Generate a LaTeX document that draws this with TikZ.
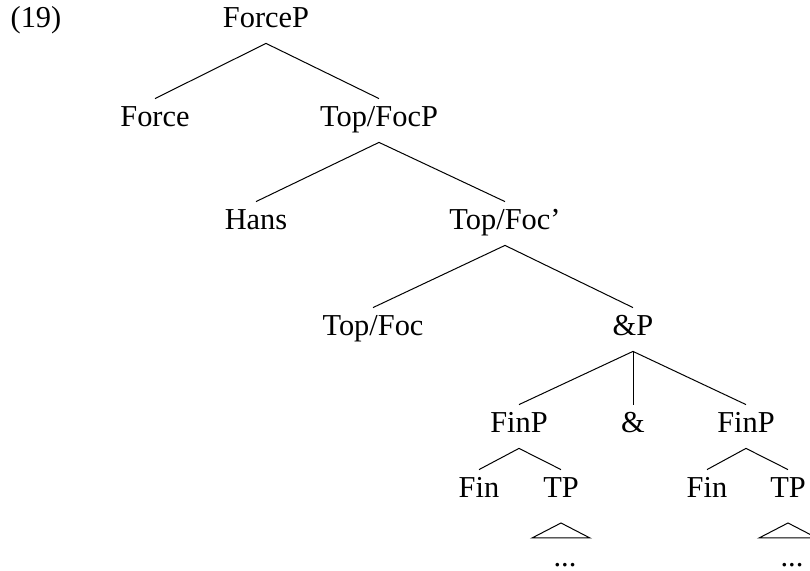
\documentclass[tikz,border=0pt]{standalone}
\usepackage{fontspec}
\setmainfont{Liberation Serif}
\begin{document}
\begin{tikzpicture}[x=0.5pt,y=-0.5pt,
  lab/.style={anchor=base, font=\fontsize{15.2}{18}\selectfont, text height=10pt, text depth=3.5pt, inner xsep=0pt, inner ysep=4pt},
  dotlab/.style={lab, text height=2pt, text depth=0pt, inner ysep=0pt},
  edge/.style={line width=0.5pt}]
\useasboundingbox (0,0) rectangle (810,571);
\node[lab] (ex) at (36,28) {(19)};
\node[lab] (fp) at (266,28) {ForceP};
\node[lab] (f) at (155,127) {Force};
\node[lab] (tfp) at (379,127) {Top/FocP};
\node[lab] (hans) at (256,230) {Hans};
\node[lab] (tfb) at (505,230) {Top/Foc'};
\node[lab] (tf) at (373,336) {Top/Foc};
\node[lab] (ap) at (633,336) {\&P};
\node[lab] (fin1p) at (519,433) {FinP};
\node[lab] (amp) at (633,433) {\&};
\node[lab] (fin2p) at (746,433) {FinP};
\node[lab] (fin1) at (479,498) {Fin};
\node[lab] (tp1) at (561,498) {TP};
\node[lab] (fin2) at (707,498) {Fin};
\node[lab] (tp2) at (788,498) {TP};
\node[dotlab] (dots1) at (565,567) {...};
\node[dotlab] (dots2) at (792,567) {...};
\coordinate (r1) at (561,523);
\coordinate (r2) at (788,523);
\draw[edge] (fp.south) -- (f.north);
\draw[edge] (fp.south) -- (tfp.north);
\draw[edge] (tfp.south) -- (hans.north);
\draw[edge] (tfp.south) -- (tfb.north);
\draw[edge] (tfb.south) -- (tf.north);
\draw[edge] (tfb.south) -- (ap.north);
\draw[edge] (ap.south) -- (fin1p.north);
\draw[edge] (ap.south) -- (amp.north);
\draw[edge] (ap.south) -- (fin2p.north);
\draw[edge] (fin1p.south) -- (fin1.north);
\draw[edge] (fin1p.south) -- (tp1.north);
\draw[edge] (fin2p.south) -- (fin2.north);
\draw[edge] (fin2p.south) -- (tp2.north);
\draw[edge] (r1) -- ++(-29,15) -- ++(58,0) -- cycle;
\draw[edge] (r2) -- ++(-29,15) -- ++(58,0) -- cycle;
\end{tikzpicture}
\end{document}
